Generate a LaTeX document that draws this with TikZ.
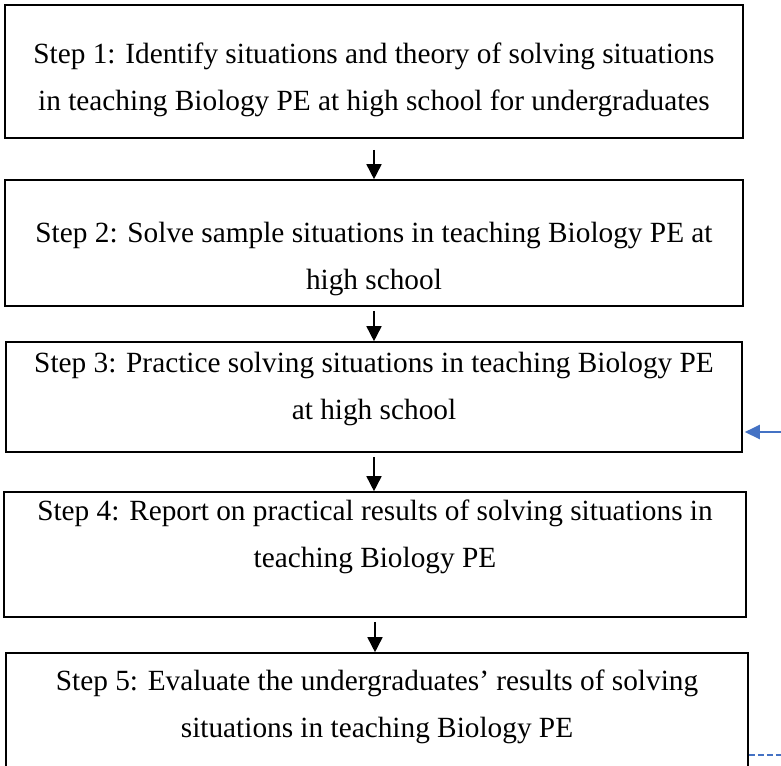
\documentclass[tikz,border=0pt]{standalone}
\usepackage{fontspec}
\setmainfont{Liberation Serif}
\usetikzlibrary{arrows.meta}
\definecolor{flowblue}{RGB}{68,114,196}

\tikzset{
  stepbox/.style={draw, line width=1.6pt, inner sep=0pt},
  steptext/.style={align=center, inner sep=0pt, font=\fontsize{29.3}{47}\selectfont},
  flow/.style={-{Triangle[width=15pt,length=15pt]}, line width=1.6pt, shorten <=4pt},
  feedback/.style={flowblue, line width=2.6pt, -{Triangle[width=14pt,length=15pt]}}
}

\begin{document}
\begin{tikzpicture}[x=1pt, y=-1pt]
          \useasboundingbox (0,0) rectangle (781,765);
          \clip (0,0) rectangle (781,765);
          % step boxes
          \node[stepbox, minimum width=738pt, minimum height=133pt] (b1) at (374,71.5) {};
          \node[stepbox, minimum width=738pt, minimum height=126pt] (b2) at (374,243) {};
          \node[stepbox, minimum width=736pt, minimum height=110pt] (b3) at (374,397) {};
          \node[stepbox, minimum width=742pt, minimum height=125pt] (b4) at (375,554.5) {};
          \node[stepbox, minimum width=742pt, minimum height=137pt] (b5) at (377,721.5) {};
          % step texts
          \node[steptext] (t1) at (374,79.5) {Step 1: Identify situations and theory of solving situations\\in teaching Biology PE at high school for undergraduates};
          \node[steptext] (t2) at (374,258.5) {Step 2: Solve sample situations in teaching Biology PE at\\high school};
          \node[steptext] (t3) at (374,388.5) {Step 3: Practice solving situations in teaching Biology PE\\at high school};
          \node[steptext] (t4) at (375,536.5) {Step 4: Report on practical results of solving situations in\\teaching Biology PE};
          \node[steptext] (t5) at (377,706.5) {Step 5: Evaluate the undergraduates’ results of solving\\situations in teaching Biology PE};
          % arrows between steps
          \draw[flow, shorten <=11pt] (b1.south) -- (b2.north);
          \draw[flow] (b2.south) -- (b3.north);
          \draw[flow] (b3.south) -- (b3.south |- b4.north);
          \draw[flow] (b4.south) -- (b4.south |- b5.north);
          % blue feedback lines
          \coordinate (fbin) at (781,432);
          \draw[feedback, shorten >=2pt] (fbin) -- (fbin -| b3.east);
          \coordinate (fbout) at (781,755);
          \draw[flowblue, dash pattern=on 6pt off 3pt, line width=1.5pt] (fbout -| b5.east) -- (fbout);
        \end{tikzpicture}
\end{document}
